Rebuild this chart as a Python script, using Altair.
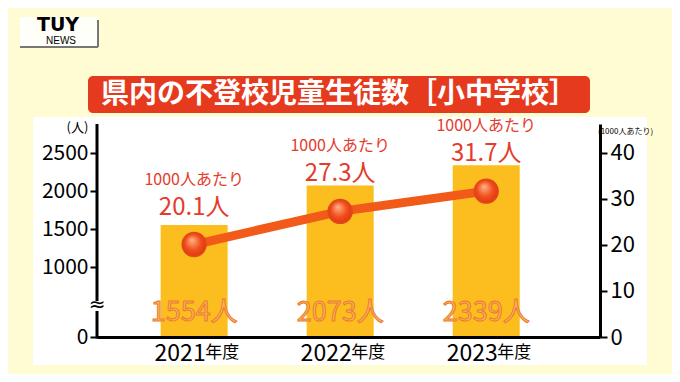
import altair as alt
import pandas as pd

years = [2021, 2022, 2023]
students = [1554, 2073, 2339]
per1000 = [20.1, 27.3, 31.7]
left_ticks = [0, 1000, 1500, 2000, 2500]
right_ticks = [0, 10, 20, 30, 40]
title_text = "県内の不登校児童生徒数［小中学校］"

df = pd.DataFrame({
    "year": years,
    "students": students,
    "per1000": per1000,
    "slabel": [f"{s}人" for s in students],
    "plabel": [f"{p}人" for p in per1000],
    "head": ["1000人あたり"] * len(years),
    "nendo": ["年度"] * len(years),
})
dummy = pd.DataFrame({"a": [0]})

W, H = 503, 213
FONT = "Noto Sans CJK JP"

xscale = alt.Scale(domain=[2020.369, 2023.745], nice=False, zero=False)
xenc = alt.X("year:Q", scale=xscale,
             axis=alt.Axis(values=years, format="d", title=None, ticks=False, tickSize=0,
                           labelFontSize=23, labelColor="black", labelAlign="right",
                           labelOffset=11, labelBaseline="middle", labelPadding=16,
                           domainColor="black", domainWidth=3, grid=False, labelFont=FONT,
                           zindex=1))

lscale = alt.Scale(domain=[0, 1000, 2882], range=[H, H - 70, 0], nice=False, zero=False)
rscale = alt.Scale(domain=[0, 46.3], nice=False, zero=False)

# decorations
panel = alt.Chart(dummy).mark_rect(color="white").encode(
    x=alt.value(-64), x2=alt.value(550), y=alt.value(-7), y2=alt.value(241))
logo_box = alt.Chart(dummy).mark_rect(color="#FFFFFA").encode(
    x=alt.value(-77), x2=alt.value(1), y=alt.value(-107), y2=alt.value(-77))
logo_r = alt.Chart(dummy).mark_rule(color="#777777", strokeWidth=2).encode(
    x=alt.value(1), y=alt.value(-104), y2=alt.value(-77))
logo_b = alt.Chart(dummy).mark_rule(color="#777777", strokeWidth=2).encode(
    x=alt.value(-77), x2=alt.value(1), y=alt.value(-77))
logo_t = alt.Chart(dummy).mark_text(text="TUY", font="DejaVu Sans", fontWeight="bold",
                                    fontSize=19, color="black", baseline="middle").encode(
    x=alt.value(-39), y=alt.value(-99))
logo_n = alt.Chart(dummy).mark_text(text="NEWS", font="Liberation Sans", fontSize=10,
                                    color="black", baseline="middle").encode(
    x=alt.value(-36), y=alt.value(-83))
banner = alt.Chart(dummy).mark_rect(color="#E63A1E", cornerRadius=5).encode(
    x=alt.value(-9), x2=alt.value(493), y=alt.value(-48), y2=alt.value(-11))
banner_t = alt.Chart(dummy).mark_text(text=title_text, font=FONT, fontWeight="bold",
                                      fontSize=28, color="white", baseline="middle").encode(
    x=alt.value(242), y=alt.value(-29))
# left axis line drawn in two pieces with a break mark between them
axis_top = alt.Chart(dummy).mark_rule(color="black", strokeWidth=3).encode(
    x=alt.value(0), y=alt.value(0), y2=alt.value(H - 36))
axis_bot = alt.Chart(dummy).mark_rule(color="black", strokeWidth=3).encode(
    x=alt.value(0), y=alt.value(H - 26), y2=alt.value(H + 1.5))
brk = alt.Chart(dummy).mark_text(text="≈", font="DejaVu Sans", fontSize=20,
                                 color="black", baseline="middle").encode(
    x=alt.value(0), y=alt.value(H - 32))
deco = alt.layer(panel, logo_box, logo_r, logo_b, logo_t, logo_n, banner, banner_t,
                 axis_top, axis_bot, brk)

# left group (bars)
bars = alt.Chart(df).mark_bar(size=67, color="#FBBE1E").encode(
    x=xenc,
    y=alt.Y("students:Q", scale=lscale,
            axis=alt.Axis(orient="left", values=left_ticks, format="d", title="(人)",
                          titleAngle=0, titleAlign="center", titleBaseline="middle",
                          titleX=-20, titleY=3, titleFontSize=13, titleFontWeight="normal",
                          titleFont=FONT, titleColor="black", domain=False,
                          tickColor="black", tickWidth=2, tickSize=7, labelFontSize=21,
                          labelColor="black", labelPadding=2, labelFont=FONT, grid=False,
                          zindex=1)))
bar_lab = alt.Chart(df).mark_text(font=FONT, fontSize=27, color="#F9B45E", stroke="#EE7A2E",
                                  strokeWidth=1, baseline="middle", dy=-24).encode(
    x="year:Q", y=alt.YDatum(0), text="slabel:N")
nendo = alt.Chart(df).mark_text(font=FONT, fontSize=17, color="black", align="left",
                                baseline="middle", dx=11).encode(
    x="year:Q", y=alt.value(H + 16), text="nendo:N")
left = alt.layer(bars, bar_lab, nendo)

# right group (line)
yr = alt.Y("per1000:Q", scale=rscale,
           axis=alt.Axis(orient="right", values=right_ticks, format="d", title="(1000人あたり)",
                         titleAngle=0, titleAlign="center", titleBaseline="middle",
                         titleX=25, titleY=7, titleFontSize=8, titleFontWeight="normal",
                         titleFont=FONT, titleColor="black",
                         domainColor="black", domainWidth=3, tickColor="black",
                         tickWidth=2, tickSize=7, labelFontSize=22, labelColor="black",
                         labelPadding=3, labelFont=FONT, grid=False, zindex=1))
line = alt.Chart(df).mark_line(color="#F25A1A", strokeWidth=9).encode(x="year:Q", y=yr)
grad = alt.RadialGradient(
    gradient="radial",
    stops=[alt.GradientStop(color="#FFB58A", offset=0),
           alt.GradientStop(color="#F24E1C", offset=0.55),
           alt.GradientStop(color="#D8300E", offset=1)],
    x1=0.4, y1=0.3, r1=0, x2=0.5, y2=0.5, r2=0.6)
pts = alt.Chart(df).mark_circle(size=570, opacity=1, fill=grad, stroke="#E04A1A",
                                strokeWidth=1.5).encode(x="year:Q", y="per1000:Q")
head = alt.Chart(df).mark_text(font=FONT, fontSize=16, color="#E53B2C", baseline="middle",
                               dy=-65).encode(x="year:Q", y="per1000:Q", text="head:N")
val = alt.Chart(df).mark_text(font=FONT, fontSize=24, color="#E53B2C", baseline="middle",
                              dy=-37).encode(x="year:Q", y="per1000:Q", text="plabel:N")
right = alt.layer(line, pts, head, val)

chart = alt.layer(deco, left, right).resolve_scale(y="independent").properties(
    width=W, height=H,
    padding={"left": 89, "top": 116, "right": 72, "bottom": 37},
    autosize=alt.AutoSizeParams(type="none"),
    background="#FFFCD4",
).configure_view(stroke=None).configure(font=FONT)

chart.save("out.html", embed_options={"renderer": "svg", "actions": False})
